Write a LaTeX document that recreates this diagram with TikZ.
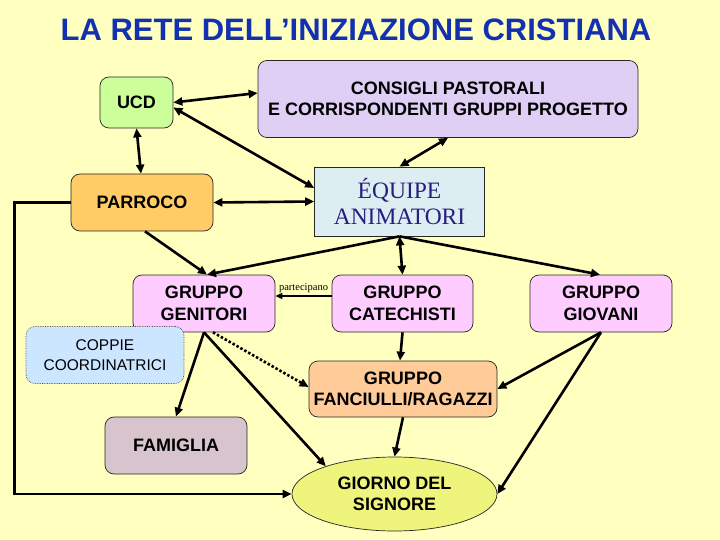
\documentclass[tikz,border=0pt]{standalone}
\usepackage{fontspec}
\setmainfont{Liberation Sans}
\newfontfamily\serifface{Liberation Serif}
\usetikzlibrary{arrows.meta,shapes.geometric}
\definecolor{bgyellow}{HTML}{FFFFC0}
\definecolor{titleblue}{RGB}{18,48,176}
\definecolor{ucdgreen}{HTML}{CCFF99}
\definecolor{lavender}{HTML}{DFCFF5}
\definecolor{parrorange}{HTML}{FFCC66}
\definecolor{equipeblue}{HTML}{DDEEF3}
\definecolor{equipetext}{RGB}{40,30,125}
\definecolor{pinkbox}{HTML}{FFCCFF}
\definecolor{coppieblue}{HTML}{CCE6FF}
\definecolor{peach}{HTML}{FFCC99}
\definecolor{mauve}{HTML}{D8C4CC}
\definecolor{giornoyellow}{HTML}{EEF47C}
\tikzset{
  box/.style={draw=black!85, line width=0.7pt, rounded corners=9pt, align=center,
    inner sep=0pt, font=\bfseries\fontsize{18}{21.5}\selectfont},
  conn/.style={line width=2.6pt, -{Triangle[length=9pt,width=8pt]}},
  biconn/.style={line width=2.6pt, {Triangle[length=9pt,width=8pt]}-{Triangle[length=9pt,width=8pt]}},
  thinconn/.style={line width=1.5pt, -{Triangle[length=7pt,width=6pt]}},
  dotconn/.style={line width=2.6pt, dash pattern=on 2.5pt off 2pt, -{Triangle[length=9pt,width=8pt]}},
}
\begin{document}
\begin{tikzpicture}[x=1pt,y=-1pt]
\fill[bgyellow] (0,0) rectangle (720,540);
\useasboundingbox (0,0) rectangle (720,540);

\node[text=titleblue, font=\bfseries\fontsize{31}{36}\selectfont] (title) at (356,30) {LA RETE DELL’INIZIAZIONE CRISTIANA};

\node[box, fill=ucdgreen, minimum width=73pt, minimum height=51pt] (ucd) at (136.5,102.5) {UCD};
\node[box, fill=lavender, minimum width=380pt, minimum height=77pt] (consigli) at (448,99) {CONSIGLI PASTORALI\\E CORRISPONDENTI GRUPPI PROGETTO};
\node[box, fill=parrorange, minimum width=142pt, minimum height=57pt] (parroco) at (142,202.5) {PARROCO};
\node[box, rounded corners=0pt, fill=equipeblue, minimum width=170pt, minimum height=69pt,
  text=equipetext, font=\serifface\fontsize{23.5}{26.5}\selectfont] (equipe) at (399.5,201.5) {ÉQUIPE\\ANIMATORI};
\node[box, fill=pinkbox, minimum width=142pt, minimum height=57pt] (genitori) at (204,303.5) {GRUPPO\\GENITORI};
\node[box, fill=pinkbox, minimum width=141pt, minimum height=57pt] (catechisti) at (402.5,303.5) {GRUPPO\\CATECHISTI};
\node[box, fill=pinkbox, minimum width=142pt, minimum height=57pt] (giovani) at (601,303.5) {GRUPPO\\GIOVANI};
\node[box, fill=coppieblue, draw=black!70, densely dotted, minimum width=158pt, minimum height=57pt,
  font=\fontsize{15.5}{20}\selectfont] (coppie) at (105,355) {COPPIE\\COORDINATRICI};
\node[box, fill=peach, minimum width=188pt, minimum height=56pt] (fanciulli) at (403,389) {GRUPPO\\FANCIULLI/RAGAZZI};
\node[box, fill=mauve, minimum width=142pt, minimum height=57pt] (famiglia) at (176,445.5) {FAMIGLIA};
\node[ellipse, draw=black!85, line width=0.7pt, fill=giornoyellow, align=center, inner sep=0pt,
  minimum width=205pt, minimum height=74pt, font=\bfseries\fontsize{18}{21.5}\selectfont] (giorno) at (394.5,494) {GIORNO DEL\\SIGNORE};

% connectors
\draw[biconn] (ucd.east) -- ([yshift=6pt]consigli.west);
\draw[biconn] ([yshift=-5pt]ucd.east) -- ([yshift=13.5pt]equipe.west);
\draw[biconn] (consigli.south) -- (equipe.north);
\draw[biconn] (ucd.south) -- ([xshift=-1pt]parroco.north);
\draw[biconn] (parroco.east) -- (equipe.west);
\draw[conn] ([xshift=3pt]parroco.south) -- ([xshift=3pt]genitori.north);
\draw[conn] (equipe.south) -- ([xshift=3pt]genitori.north);
\draw[biconn] (equipe.south) -- (catechisti.north);
\draw[conn] (equipe.south) -- ([xshift=-1pt]giovani.north);
\draw[thinconn] ([yshift=7.5pt]catechisti.west) -- node[above=-1pt, font=\serifface\fontsize{10.5}{12}\selectfont, text=black] (partlabel) {partecipano} ([yshift=7.5pt]genitori.east);
\draw[conn] (catechisti.south) -- ([xshift=-3pt]fanciulli.north);
\draw[conn] (giovani.south) -- (fanciulli.east);
\draw[conn] (giovani.south) -- (giorno.east);
\draw[conn] (genitori.south) -- (famiglia.north);
\draw[conn] (genitori.south) -- (giorno.158);
\draw[dotconn] ([xshift=9pt]genitori.south) -- ([yshift=2pt]fanciulli.west);
\draw[conn] (fanciulli.south) -- (giorno.north);
\draw[conn] (parroco.west) -- ++(-56,0) |- (giorno.west);
\end{tikzpicture}
\end{document}
